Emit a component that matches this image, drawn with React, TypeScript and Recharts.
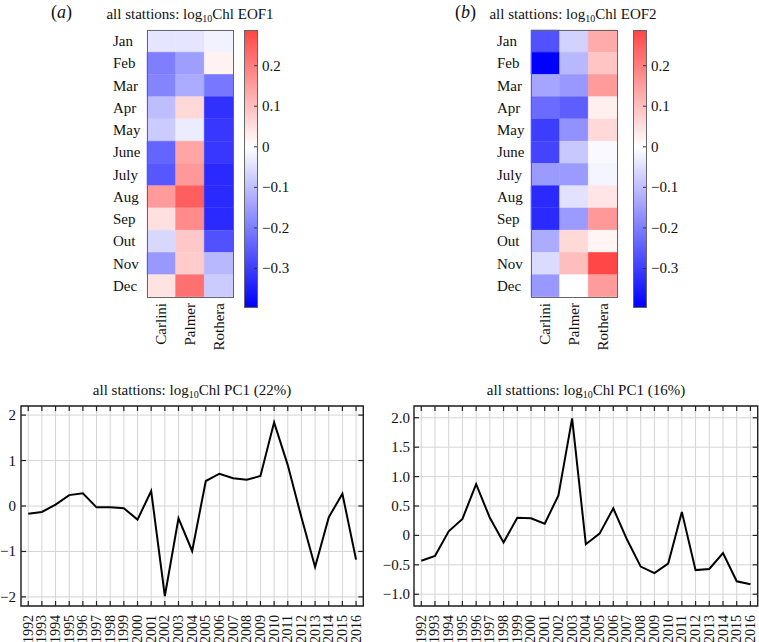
import React from "react";
import {
  BarChart,
  Bar,
  Cell,
  XAxis,
  YAxis,
  ReferenceArea,
  LineChart,
  Line,
  CartesianGrid,
} from "recharts";

// heatmap rows / columns
const months = ["Jan", "Feb", "Mar", "Apr", "May", "June", "July", "Aug", "Sep", "Out", "Nov", "Dec"];
const stations = ["Carlini", "Palmer", "Rothera"];

const eof1Carlini = [-0.04, -0.2, -0.19, -0.1, -0.08, -0.24, -0.26, 0.155, 0.05, -0.06, -0.16, 0.045];
const eof1Palmer = [-0.04, -0.15, -0.13, 0.06, -0.03, 0.14, 0.16, 0.25, 0.18, 0.085, 0.08, 0.22];
const eof1Rothera = [-0.02, 0.02, -0.21, -0.32, -0.31, -0.31, -0.33, -0.33, -0.33, -0.27, -0.11, -0.08];

// EOF2 loadings
const eof2Carlini = [-0.27, -0.395, -0.14, -0.23, -0.3, -0.29, -0.155, -0.33, -0.33, -0.13, -0.055, -0.16];
const eof2Palmer = [-0.07, -0.11, -0.16, -0.25, -0.17, -0.085, -0.155, -0.045, -0.155, 0.06, 0.1, 0];
const eof2Rothera = [0.13, 0.09, 0.155, 0.025, 0.06, -0.01, -0.015, 0.04, 0.16, 0.015, 0.285, 0.155];

// colour bar
const cbTicks = [-0.3, -0.2, -0.1, 0, 0.1, 0.2];
const cbMin = -0.395;
const cbMax = 0.288;
const cLim = 0.395;

// principal component time series
const years = [1992, 1993, 1994, 1995, 1996, 1997, 1998, 1999, 2000, 2001, 2002, 2003, 2004, 2005, 2006, 2007, 2008, 2009, 2010, 2011, 2012, 2013, 2014, 2015, 2016];
const pcA = [-0.17, -0.13, 0.03, 0.24, 0.28, -0.03, -0.03, -0.05, -0.3, 0.33, -1.98, -0.27, -0.99, 0.55, 0.71, 0.61, 0.58, 0.66, 1.84, 0.9, -0.25, -1.34, -0.25, 0.27, -1.18];
const pcB = [-0.43, -0.35, 0.07, 0.28, 0.87, 0.3, -0.12, 0.3, 0.29, 0.2, 0.68, 1.99, -0.15, 0.03, 0.46, -0.07, -0.53, -0.64, -0.48, 0.4, -0.59, -0.57, -0.3, -0.78, -0.83];
const pcTicksA = [-2, -1, 0, 1, 2];
const pcTicksB = [-1, -0.5, 0, 0.5, 1, 1.5, 2];

const FONT = "Liberation Serif, Times New Roman, serif";
const MINUS = "\u2212";

// blue - white - red map, symmetric around zero
function cmap(v: number) {
  const t = Math.min(1, Math.abs(v) / cLim);
  const k = Math.round(255 * (1 - t));
  return v < 0 ? `rgb(${k},${k},255)` : `rgb(255,${k},${k})`;
}

function fmtNum(v: number, digits: number) {
  if (v === 0) return "0";
  const s = Math.abs(v).toFixed(digits);
  return v < 0 ? MINUS + s : s;
}

const MonthTick = (props: any) => {
  const { x, y, payload } = props;
  return (
    <text x={x - 34} y={y} textAnchor="start" dominantBaseline="central" fontFamily={FONT} fontSize={15} fill="#111">
      {payload.value}
    </text>
  );
};

const StationTick = (props: any) => {
  const { x, y, payload } = props;
  return (
    <text transform={`translate(${x},${y}) rotate(-90)`} textAnchor="end" dominantBaseline="central" fontFamily={FONT} fontSize={15} fill="#111">
      {stations[Math.floor(payload.value)]}
    </text>
  );
};

// colour bar labels, with a short inward tick on the bar's right edge
const CbTick = (props: any) => {
  const { x, y, payload } = props;
  return (
    <g>
      <line x1={x - 3} x2={x} y1={y} y2={y} stroke="#333" strokeWidth={1} />
      <text x={x + 5} y={y} textAnchor="start" dominantBaseline="central" fontFamily={FONT} fontSize={15} fill="#111">
        {fmtNum(payload.value, 1)}
      </text>
    </g>
  );
};

// thin grey box drawn over a panel
function Frame({ left, top, width, height }: { left: number; top: number; width: number; height: number }) {
  return (
    <div
      style={{
        position: "absolute",
        left,
        top,
        width,
        height,
        boxSizing: "border-box",
        border: "1px solid #666",
        pointerEvents: "none",
      }}
    />
  );
}

function Heatmap({ cols, left }: { cols: number[][]; left: number }) {
  const rows = months.map((m) => ({ month: m, c0: 1, c1: 1, c2: 1 }));
  return (
    <div style={{ position: "absolute", left, top: 0 }}>
      <BarChart width={134} height={357} data={rows} layout="vertical" margin={{ top: 30, right: 1, bottom: 0, left: 0 }} barCategoryGap={0} barGap={0}>
        <XAxis type="number" domain={[0, 3]} ticks={[0.5, 1.5, 2.5]} interval={0} height={60} axisLine={false} tickLine={false} tickSize={0} tickMargin={6} tick={StationTick} />
        <YAxis type="category" dataKey="month" width={47} interval={0} axisLine={false} tickLine={false} tickSize={0} tickMargin={0} tick={MonthTick} />
        {cols.map((vals, j) => (
          <Bar key={j} dataKey={`c${j}`} stackId="s" isAnimationActive={false}>
            {vals.map((v, i) => (
              <Cell key={i} fill={cmap(v)} stroke={cmap(v)} strokeWidth={0.6} />
            ))}
          </Bar>
        ))}
      </BarChart>
    </div>
  );
}

function Colorbar({ id, left }: { id: string; left: number }) {
  const data = [{ name: "cb", range: [cbMin, cbMax] }];
  return (
    <div style={{ position: "absolute", left, top: 0 }}>
      <BarChart width={56} height={308} data={data} margin={{ top: 30, right: 0, bottom: 1, left: 1 }} barCategoryGap={0}>
        <defs>
          <linearGradient id={id} x1="0" y1="0" x2="0" y2="1">
            <stop offset={0} stopColor={cmap(cbMax)} />
            <stop offset={cbMax / (cbMax - cbMin)} stopColor="#ffffff" />
            <stop offset={1} stopColor={cmap(cbMin)} />
          </linearGradient>
        </defs>
        <XAxis dataKey="name" hide />
        <YAxis type="number" orientation="right" domain={[cbMin, cbMax]} ticks={cbTicks} interval={0} width={42} axisLine={false} tickLine={false} tickSize={0} tickMargin={0} tick={CbTick} allowDataOverflow />
        <Bar dataKey="range" fill={`url(#${id})`} isAnimationActive={false} />
      </BarChart>
    </div>
  );
}

function PcChart(props: {
  left: number;
  width: number;
  values: number[];
  domain: [number, number];
  ticks: number[];
  yWidth: number;
  yGap: number;
  digits: number;
  rightMargin: number;
}) {
  const { left, width, values, domain, ticks, yWidth, yGap, digits, rightMargin } = props;
  const rows = years.map((yr, i) => ({ year: yr, v: values[i] }));
  const xDomain: [number, number] = [1991.47, 2016.53];
  const chartH = 242;
  const topM = 6;
  const xAxisH = 36;
  const plotH = chartH - topM - xAxisH;
  const plotW = width - yWidth - rightMargin;

  // y labels, plus inward ticks on the left and right frame edges
  const LeftTick = (p: any) => {
    const x0 = p.x + yGap;
    return (
      <g>
        <line x1={x0} x2={x0 + 5} y1={p.y} y2={p.y} stroke="#222" strokeWidth={1.2} />
        <line x1={x0 + plotW - 5} x2={x0 + plotW} y1={p.y} y2={p.y} stroke="#222" strokeWidth={1.2} />
        <text x={p.x} y={p.y} textAnchor="end" dominantBaseline="central" fontFamily={FONT} fontSize={15} fill="#111">
          {fmtNum(p.payload.value, digits)}
        </text>
      </g>
    );
  };
  // rotated year labels, plus inward ticks on the bottom and top frame edges
  const YearTick = (p: any) => {
    const y0 = p.y - 9;
    return (
      <g>
        <line x1={p.x} x2={p.x} y1={y0} y2={y0 - 5} stroke="#222" strokeWidth={1.2} />
        <line x1={p.x} x2={p.x} y1={y0 - plotH} y2={y0 - plotH + 5} stroke="#222" strokeWidth={1.2} />
        <text transform={`translate(${p.x},${p.y}) rotate(-90)`} textAnchor="end" dominantBaseline="central" fontFamily={FONT} fontSize={14} fill="#111">
          {p.payload.value}
        </text>
      </g>
    );
  };

  return (
    <div style={{ position: "absolute", left, top: 400 }}>
      <LineChart width={width} height={chartH} data={rows} margin={{ top: topM, right: rightMargin, bottom: 0, left: 0 }}>
        <CartesianGrid stroke="#d4d4d4" strokeWidth={1} />
        <XAxis dataKey="year" type="number" domain={xDomain} ticks={years} interval={0} height={xAxisH} axisLine={false} tickLine={false} tickSize={0} tickMargin={9} tick={YearTick} allowDataOverflow />
        <YAxis type="number" domain={domain} ticks={ticks} interval={0} width={yWidth} axisLine={false} tickLine={false} tickSize={0} tickMargin={yGap} tick={LeftTick} allowDataOverflow />
        <Line type="linear" dataKey="v" stroke="#000" strokeWidth={2} dot={false} isAnimationActive={false} />
        <ReferenceArea x1={xDomain[0]} x2={xDomain[1]} y1={domain[0]} y2={domain[1]} fill="#fff" fillOpacity={0} stroke="#222" strokeWidth={1.4} ifOverflow="visible" />
      </LineChart>
    </div>
  );
}

const titleStyle: React.CSSProperties = {
  position: "absolute",
  fontFamily: FONT,
  fontSize: 15,
  lineHeight: "20px",
  textAlign: "center",
  whiteSpace: "nowrap",
  color: "#111",
};
const subStyle: React.CSSProperties = { fontSize: 10, lineHeight: 0, verticalAlign: "-3px" };

function Title({ cx, top, tail }: { cx: number; top: number; tail: string }) {
  return (
    <div style={{ ...titleStyle, left: cx - 120, width: 240, top }}>
      all stattions: log<span style={subStyle}>10</span>Chl {tail}
    </div>
  );
}

function PanelLabel({ left, letter }: { left: number; letter: string }) {
  return (
    <div style={{ position: "absolute", left, top: 2, fontFamily: FONT, fontSize: 18, lineHeight: "20px", color: "#111" }}>
      (<i>{letter}</i>)
    </div>
  );
}

export default function App() {
  return (
    <div style={{ position: "absolute", left: 0, top: 0, width: 759, height: 642, background: "#fff", overflow: "hidden" }}>
      <PanelLabel left={51} letter="a" />
      <Title cx={190} top={4} tail="EOF1" />
      <Heatmap cols={[eof1Carlini, eof1Palmer, eof1Rothera]} left={100} />
      <Frame left={146.5} top={29.5} width={87} height={268} />
      <Colorbar id="cbA" left={243} />
      <Frame left={243.5} top={29.5} width={14} height={278} />

      <PanelLabel left={455} letter="b" />
      <Title cx={573} top={4} tail="EOF2" />
      <Heatmap cols={[eof2Carlini, eof2Palmer, eof2Rothera]} left={484} />
      <Frame left={530.5} top={29.5} width={87} height={268} />
      <Colorbar id="cbB" left={632} />
      <Frame left={632.5} top={29.5} width={14} height={278} />

      <Title cx={192} top={380} tail="PC1 (22%)" />
      <PcChart left={0} width={370} values={pcA} domain={[-2.2, 2.2]} ticks={pcTicksA} yWidth={21} yGap={5} digits={0} rightMargin={6.7} />

      <Title cx={586} top={380} tail="PC1 (16%)" />
      <PcChart left={378} width={381} values={pcB} domain={[-1.2, 2.2]} ticks={pcTicksB} yWidth={36} yGap={4} digits={1} rightMargin={1.3} />
    </div>
  );
}
